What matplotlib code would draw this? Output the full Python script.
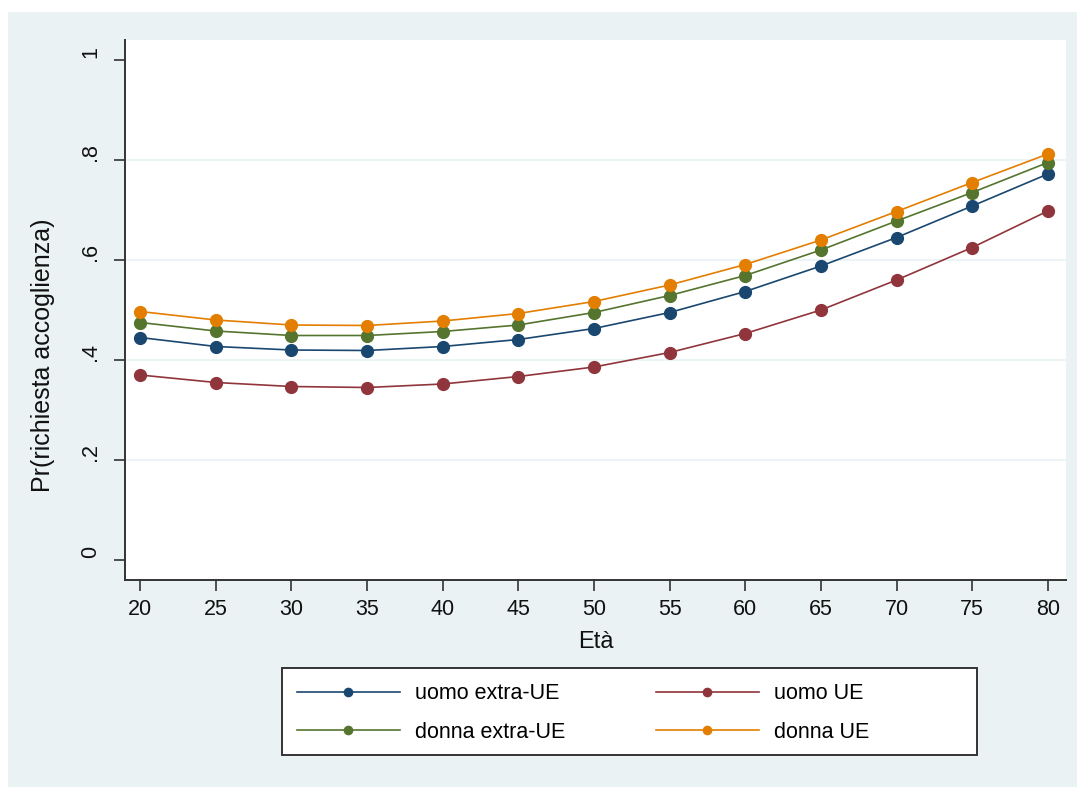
import matplotlib
matplotlib.use("Agg")
import matplotlib.pyplot as plt
import matplotlib.transforms as mtransforms
from matplotlib.patches import Rectangle

plt.rcParams['font.family'] = ['Liberation Sans', 'DejaVu Sans']

ages = [20, 25, 30, 35, 40, 45, 50, 55, 60, 65, 70, 75, 80]
uomo_extra_ue = [0.445, 0.427, 0.420, 0.419, 0.427, 0.441, 0.463, 0.495, 0.537, 0.588, 0.645, 0.708, 0.772]
uomo_ue = [0.370, 0.355, 0.347, 0.345, 0.352, 0.367, 0.386, 0.415, 0.453, 0.500, 0.560, 0.625, 0.698]
donna_extra_ue = [0.475, 0.458, 0.449, 0.449, 0.457, 0.470, 0.495, 0.529, 0.569, 0.620, 0.678, 0.735, 0.795]
donna_ue = [0.497, 0.480, 0.470, 0.469, 0.478, 0.493, 0.517, 0.550, 0.591, 0.640, 0.697, 0.755, 0.812]

labels = ["uomo extra-UE", "uomo UE", "donna extra-UE", "donna UE"]
colors = ["#1a476f", "#90353b", "#55752f", "#e37e00"]
series = [uomo_extra_ue, uomo_ue, donna_extra_ue, donna_ue]

yticks = [0, 0.2, 0.4, 0.6, 0.8, 1.0]
ytick_labels = ["0", ".2", ".4", ".6", ".8", "1"]
xticks = ages

W, H = 1077, 787
fig = plt.figure(figsize=(W / 100, H / 100), dpi=100)
fig.patch.set_facecolor("white")
bg = "#eaf2f3"
fig.patches.append(Rectangle((8 / W, 0), 1 - 8 / W, 1 - 12 / H, transform=fig.transFigure,
                             facecolor=bg, edgecolor="none", zorder=-10))

ax = fig.add_axes([125 / W, (H - 580) / H, (1066 - 125) / W, (580 - 40) / H])
ax.set_facecolor("white")

for s, lab, c in zip(series, labels, colors):
    ax.plot(ages, s, color=c, lw=1.2, marker="o", markersize=8.5, label=lab, zorder=3)

ax.set_xlim(19.0, 81.2)
ax.set_ylim(-0.04, 1.04)

for y in [0.2, 0.4, 0.6, 0.8]:
    ax.axhline(y, color="#eaf2f3", lw=1.2, zorder=1)

ax.set_yticks(yticks)
ax.set_yticklabels(ytick_labels, rotation=90, va="center")
ax.set_xticks(xticks)
ax.tick_params(axis="both", direction="out", length=8, width=1.2, color="#333333",
               labelsize=15.5, labelcolor="#111111")
ax.tick_params(axis="y", pad=9)
ax.tick_params(axis="x", pad=6)

off = mtransforms.ScaledTranslation(0, 8 / 100, fig.dpi_scale_trans)
for t in ax.get_yticklabels():
    t.set_transform(t.get_transform() + off)

for side in ["top", "right"]:
    ax.spines[side].set_visible(False)
for side in ["left", "bottom"]:
    ax.spines[side].set_color("#333333")
    ax.spines[side].set_linewidth(1.4)

fig.text(43 / W, 1 - 355 / H, "Pr(richiesta accoglienza)", rotation=90, ha="center", va="center",
         fontsize=18, color="#111111")
fig.text((125 + 1066) / 2 / W, 1 - 642 / H, "Età", ha="center", va="center",
         fontsize=17, color="#111111")

# legend frame (Stata-style box)
fig.patches.append(Rectangle((282 / W, (H - 755) / H), (977 - 282) / W, (755 - 668) / H,
                             transform=fig.transFigure, facecolor="white",
                             edgecolor="#333333", lw=1.4, zorder=5))

handles, labs = ax.get_legend_handles_labels()
order = [0, 2, 1, 3]
leg = fig.legend([handles[i] for i in order], [labs[i] for i in order], ncol=2,
                 loc="center left", bbox_to_anchor=(297 / W, 1 - 713 / H),
                 fontsize=15.5, frameon=False,
                 handlelength=4.78, handletextpad=0.7, labelspacing=0.82,
                 columnspacing=4.2, markerscale=0.7, borderpad=0, borderaxespad=0)
leg.set_zorder(6)

fig.savefig("out.png", dpi=100, facecolor=fig.get_facecolor())
